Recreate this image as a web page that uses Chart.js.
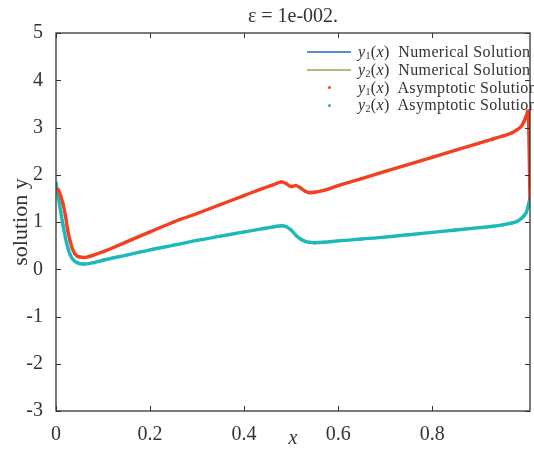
<!DOCTYPE html>
<html>
<head>
<meta charset="utf-8">
<script src="https://cdn.jsdelivr.net/npm/chart.js@4.4.0/dist/chart.umd.min.js"></script>
<style>
  html, body { margin: 0; padding: 0; background: #fff; overflow: hidden; }
  #wrap { position: relative; width: 534px; height: 451px; }
  #legend {
    position: absolute; left: 306px; top: 43px;
    font-family: 'Liberation Serif', 'DejaVu Serif', serif;
    font-size: 16px; color: #333; white-space: nowrap; letter-spacing: 0.35px;
  }
  #legend .row { height: 17.8px; display: flex; align-items: center; }
  #legend .sample { width: 46px; height: 17px; position: relative; margin-right: 6px; flex: none; }
  #legend .sample .ln { position: absolute; left: 1px; right: 1px; top: 8px; height: 1.5px; }
  #legend .sample .dot { position: absolute; left: 22px; top: 7px; width: 3px; height: 3px; border-radius: 50%; }
  #legend sub { font-size: 10px; vertical-align: -2px; }
</style>
</head>
<body>
<div id="wrap">
  <canvas id="solChart" width="534" height="451"></canvas>
  <div id="legend"></div>
</div>
<script>
// sample points along x (denser in the boundary layers)
var xValues = [0, 0.005, 0.01, 0.015, 0.02, 0.025, 0.03, 0.035, 0.04, 0.045, 0.05, 0.06, 0.07, 0.08, 0.1,
  0.15, 0.2, 0.25, 0.3, 0.35, 0.4, 0.44, 0.46, 0.47, 0.48, 0.49, 0.5, 0.51, 0.52, 0.53, 0.54, 0.55, 0.57, 0.6,
  0.65, 0.7, 0.75, 0.8, 0.85, 0.9, 0.93, 0.95, 0.97, 0.98, 0.99, 0.995, 1.0, 1.004, 1.008];

var y1Values = [1.70, 1.68, 1.55, 1.38, 1.14, 0.82, 0.60, 0.43, 0.33, 0.28, 0.26, 0.25, 0.27, 0.30, 0.37,
  0.58, 0.79, 1.00, 1.18, 1.37, 1.56, 1.71, 1.78, 1.82, 1.85, 1.81, 1.75, 1.77, 1.72, 1.65, 1.62, 1.63, 1.67, 1.77,
  1.92, 2.07, 2.22, 2.37, 2.52, 2.67, 2.76, 2.82, 2.89, 2.95, 3.03, 3.12, 3.24, 3.35, 1.50];

var y2Values = [1.83, 1.52, 1.22, 0.93, 0.67, 0.46, 0.31, 0.22, 0.17, 0.14, 0.12, 0.11, 0.12, 0.14, 0.19,
  0.30, 0.41, 0.51, 0.61, 0.70, 0.79, 0.86, 0.89, 0.91, 0.92, 0.90, 0.83, 0.72, 0.64, 0.59, 0.57, 0.56, 0.57, 0.60,
  0.64, 0.68, 0.73, 0.78, 0.83, 0.88, 0.91, 0.94, 0.98, 1.01, 1.08, 1.13, 1.20, 1.33, 1.50];

var seriesIndex = ['1', '2', '1', '2'];
var seriesKind = ['Numerical Solution', 'Numerical Solution', 'Asymptotic Solution', 'Asymptotic Solution'];
var seriesColors = ['#5b8bd6', '#a9bf85', '#f3401f', '#1db9b9'];
var xTickValues = [0, 0.2, 0.4, 0.6, 0.8];

var serif = "'Liberation Serif', 'DejaVu Serif', serif";

function pts(ys) {
  return xValues.map(function(x, i) { return { x: x, y: ys[i] }; });
}

// box round the plot with inward ticks on all four sides
var frameTicks = {
  id: 'frameTicks',
  afterDraw: function(chart) {
    var ctx = chart.ctx, a = chart.chartArea;
    var xs = chart.scales.x, ys = chart.scales.y;
    ctx.save();
    ctx.strokeStyle = '#333';
    ctx.lineWidth = 1.3;
    ctx.strokeRect(a.left, a.top, a.right - a.left, a.bottom - a.top);
    ctx.lineWidth = 1;
    ctx.beginPath();
    xs.ticks.forEach(function(t) {
      var p = Math.round(xs.getPixelForValue(t.value)) + 0.5;
      ctx.moveTo(p, a.bottom); ctx.lineTo(p, a.bottom - 5);
      ctx.moveTo(p, a.top); ctx.lineTo(p, a.top + 5);
    });
    ys.ticks.forEach(function(t) {
      var p = Math.round(ys.getPixelForValue(t.value)) + 0.5;
      ctx.moveTo(a.left, p); ctx.lineTo(a.left + 5, p);
      ctx.moveTo(a.right, p); ctx.lineTo(a.right - 5, p);
    });
    ctx.stroke();
    ctx.restore();
  }
};

var ctx = document.getElementById('solChart').getContext('2d');
var chart = new Chart(ctx, {
  type: 'scatter',
  data: {
    datasets: [
      { label: 'y1 numerical', data: pts(y1Values), showLine: true, borderColor: seriesColors[0],
        borderWidth: 1, pointRadius: 0, cubicInterpolationMode: 'monotone', order: 2 },
      { label: 'y2 numerical', data: pts(y2Values), showLine: true, borderColor: seriesColors[1],
        borderWidth: 1, pointRadius: 0, cubicInterpolationMode: 'monotone', order: 2 },
      { label: 'y1 asymptotic', data: pts(y1Values), showLine: true, borderColor: seriesColors[2],
        backgroundColor: seriesColors[2], borderWidth: 3.4, pointRadius: 1.7, pointBorderWidth: 0,
        cubicInterpolationMode: 'monotone', order: 1 },
      { label: 'y2 asymptotic', data: pts(y2Values), showLine: true, borderColor: seriesColors[3],
        backgroundColor: seriesColors[3], borderWidth: 3.4, pointRadius: 1.7, pointBorderWidth: 0,
        cubicInterpolationMode: 'monotone', order: 1 }
    ]
  },
  options: {
    responsive: false,
    animation: false,
    layout: { padding: { left: 0, right: 3, top: 0, bottom: 0 } },
    plugins: {
      legend: { display: false },
      tooltip: { enabled: false }
    },
    scales: {
      x: {
        type: 'linear', min: 0, max: 1.008,
        grid: { display: false }, border: { display: false },
        afterBuildTicks: function(s) { s.ticks = xTickValues.map(function(v) { return { value: v }; }); },
        afterFit: function(s) { s.height = 40; },
        ticks: { color: '#333', padding: 4, maxRotation: 0, autoSkip: false,
          font: { family: serif, size: 20 },
          callback: function(v) { return String(v); } },
        title: { display: true, text: 'x', color: '#333', padding: { top: 0, bottom: 0 },
          font: { family: serif, size: 20, style: 'italic' } }
      },
      // top axis only carries the figure title, centred over the plot box
      top: {
        type: 'linear', position: 'top', min: 0, max: 1.008,
        grid: { display: false }, border: { display: false },
        ticks: { display: false },
        afterFit: function(s) { s.height = 33; },
        title: { display: true, text: 'ε = 1e-002.', color: '#333', padding: { top: 5, bottom: 0 },
          font: { family: serif, size: 20 } }
      },
      y: {
        type: 'linear', min: -3, max: 5,
        grid: { display: false }, border: { display: false },
        afterFit: function(s) { s.width = 56; },
        ticks: { stepSize: 1, color: '#333', padding: 5, font: { family: serif, size: 20 } },
        title: { display: true, text: 'solution y', color: '#333', padding: { top: 8, bottom: 0 },
          font: { family: serif, size: 22 } }
      }
    }
  },
  plugins: [frameTicks]
});

// legend drawn as html so the subscripts and italics stay real text
var legendBox = document.getElementById('legend');
seriesKind.forEach(function(kind, i) {
  var row = document.createElement('div');
  row.className = 'row';
  var mark = i < 2
    ? '<span class="ln" style="background:' + seriesColors[i] + '"></span>'
    : '<span class="dot" style="background:' + seriesColors[i] + '"></span>';
  row.innerHTML = '<span class="sample">' + mark + '</span>' +
    '<span><i>y</i><sub>' + seriesIndex[i] + '</sub>(<i>x</i>)&nbsp; ' + kind + '</span>';
  legendBox.appendChild(row);
});
</script>
</body>
</html>
